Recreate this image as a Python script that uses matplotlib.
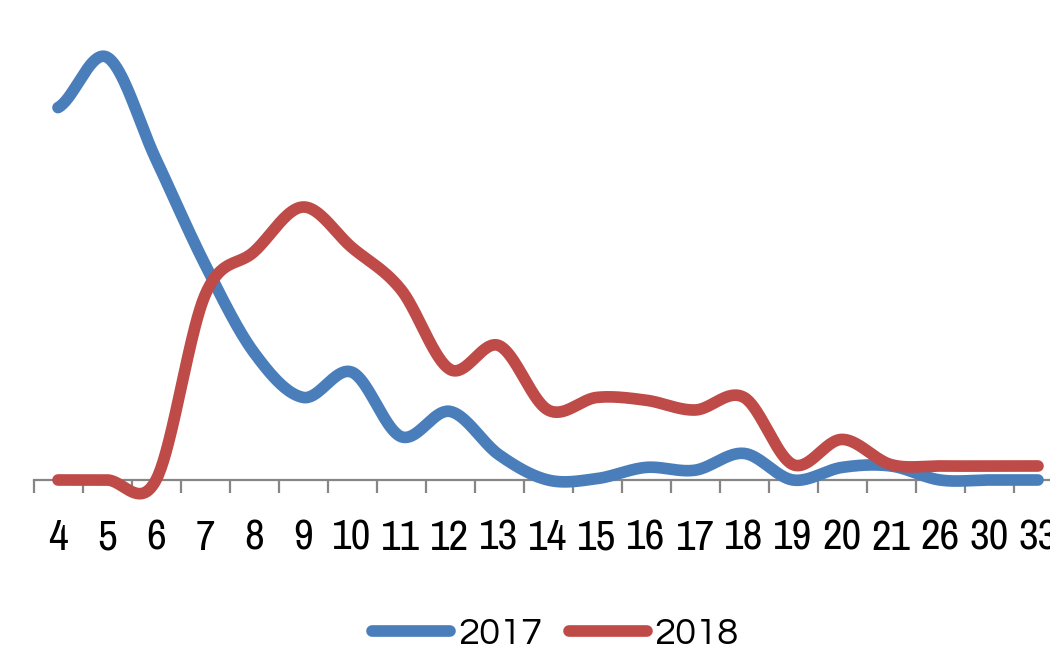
import numpy as np
import matplotlib
matplotlib.use("Agg")
import matplotlib.pyplot as plt
from matplotlib.lines import Line2D

categories = ["4", "5", "6", "7", "8", "9", "10", "11", "12", "13", "14",
              "15", "16", "17", "18", "19", "20", "21", "26", "30", "33"]
values_2017 = [26.6, 30.2, 22.9, 15.4, 9.1, 5.9, 7.7, 3.1, 4.9, 1.8, 0.0,
               0.1, 0.9, 0.7, 1.9, 0.0, 0.9, 1.0, 0.0, 0.0, 0.0]
values_2018 = [0.0, 0.0, 0.0, 13.2, 16.3, 19.5, 16.6, 13.6, 7.9, 9.6, 5.0,
               5.9, 5.7, 5.0, 5.9, 1.1, 2.9, 1.1, 1.0, 1.0, 1.0]
series_names = ["2017", "2018"]
colors = ["#4A7EBB", "#BE4B48"]


def smooth(y, n=40):
    """Catmull-Rom smoothing (like Excel's smoothed line)."""
    y = np.asarray(y, dtype=float)
    N = len(y)
    xs, ys = [], []
    for i in range(N - 1):
        p0 = y[i - 1] if i > 0 else y[i]
        p1, p2 = y[i], y[i + 1]
        p3 = y[i + 2] if i + 2 < N else y[i + 1]
        m1 = (p2 - p0) / 2.0
        m2 = (p3 - p1) / 2.0
        t = np.linspace(0, 1, n, endpoint=(i == N - 2))
        h00 = 2 * t**3 - 3 * t**2 + 1
        h10 = t**3 - 2 * t**2 + t
        h01 = -2 * t**3 + 3 * t**2
        h11 = t**3 - t**2
        xs.append(i + t)
        ys.append(h00 * p1 + h10 * m1 + h01 * p2 + h11 * m2)
    return np.concatenate(xs), np.concatenate(ys)


W, H = 1050, 649
fig = plt.figure(figsize=(W / 100, H / 100), dpi=100)
base_px = 480
px_per_unit = 14.0
left_px = 33.5
step_px = 49.0
ax = fig.add_axes([left_px / W, (H - base_px) / H,
                   step_px * len(categories) / W, base_px / H])

LW = 8.4
idx = np.arange(len(categories))
for vals, name, c in zip([values_2017, values_2018], series_names, colors):
    sx, sy = smooth(vals)
    ax.plot(sx, sy, color=c, lw=LW, solid_capstyle="round",
            solid_joinstyle="round", clip_on=False, zorder=3)

ax.set_xlim(-0.5, len(categories) - 0.5)
ax.set_ylim(0, base_px / px_per_unit)

for s in ["top", "right", "left"]:
    ax.spines[s].set_visible(False)
ax.spines["bottom"].set_color("#868686")
ax.spines["bottom"].set_linewidth(1.6)
ax.spines["bottom"].set_zorder(2)
ax.set_yticks([])

ax.set_xticks(np.arange(-0.5, len(categories), 1.0))
ax.set_xticklabels([])
ax.tick_params(axis="x", which="major", length=9.5, width=1.6,
               color="#868686", direction="out")
ax.set_xticks(idx, minor=True)
ax.set_xticklabels(categories, minor=True, fontsize=31,
                   family=["Archivo Narrow", "DejaVu Sans"])
ax.tick_params(axis="x", which="minor", length=0, pad=28, colors="black")

handles = [Line2D([], [], color=c, lw=LW, solid_capstyle="round")
           for c in colors]
fig.legend(handles, series_names, loc="center",
           bbox_to_anchor=(0.529, 1 - 634 / H), ncol=2, frameon=False,
           handlelength=2.05, handletextpad=0.2, columnspacing=0.7,
           prop={"family": ["Questrial", "DejaVu Sans"], "size": 27.5})

fig.savefig("out.png", dpi=100)
